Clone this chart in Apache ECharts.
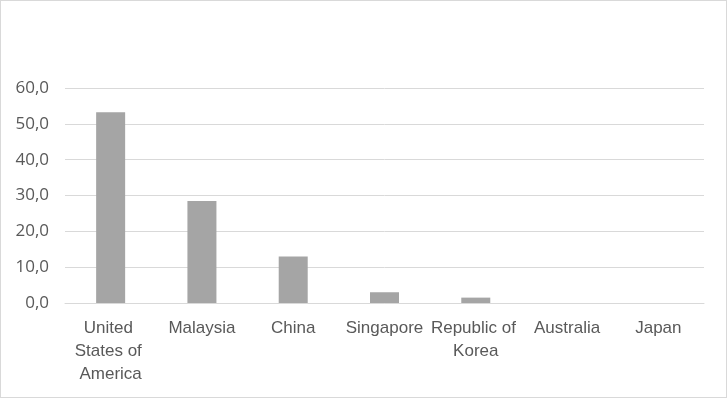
<!DOCTYPE html>
<html>
<head>
<meta charset="utf-8">
<script src="https://cdn.jsdelivr.net/npm/echarts@6/dist/echarts.min.js"></script>
<style>
  html, body { margin: 0; padding: 0; background: #fff; }
  #frame { position: absolute; left: 0; top: 0; width: 727px; height: 398px; box-sizing: border-box; border: 1px solid #d9d9d9; background: #fff; }
  #chart { position: absolute; left: 0; top: 0; width: 728px; height: 399px; }
</style>
</head>
<body>
<div id="frame"></div>
<div id="chart"></div>
<script>
const categories = ["United States of America", "Malaysia", "China", "Singapore", "Republic of Korea", "Australia", "Japan"];
const values = [53.2, 28.5, 13.0, 3.0, 1.5, 0, 0];
const yTicks = { min: 0, max: 60, interval: 10 };

const chart = echarts.init(document.getElementById('chart'), null, { renderer: 'canvas' });
chart.setOption({
  animation: false,
  backgroundColor: 'transparent',
  grid: { left: 65, right: 24, top: 88, bottom: 96, containLabel: false },
  xAxis: {
    type: 'category',
    data: categories,
    axisLine: { show: true, lineStyle: { color: '#d9d9d9', width: 1 } },
    axisTick: { show: false },
    axisLabel: {
      interval: 0,
      color: '#595959',
      fontFamily: '"Liberation Sans", Arial, sans-serif',
      fontSize: 17,
      lineHeight: 23,
      margin: 14,
      width: 90,
      overflow: 'break'
    }
  },
  yAxis: {
    type: 'value',
    min: yTicks.min,
    max: yTicks.max,
    interval: yTicks.interval,
    axisLine: { show: false },
    axisTick: { show: false },
    splitLine: { lineStyle: { color: '#d9d9d9', width: 1 } },
    axisLabel: {
      color: '#595959',
      fontFamily: '"Open Sans", sans-serif',
      fontSize: 17,
      margin: 16,
      formatter: v => v.toFixed(1).replace('.', ',')
    }
  },
  series: [{
    type: 'bar',
    data: values,
    barWidth: 29,
    itemStyle: { color: '#a5a5a5' }
  }]
});
</script>
</body>
</html>
